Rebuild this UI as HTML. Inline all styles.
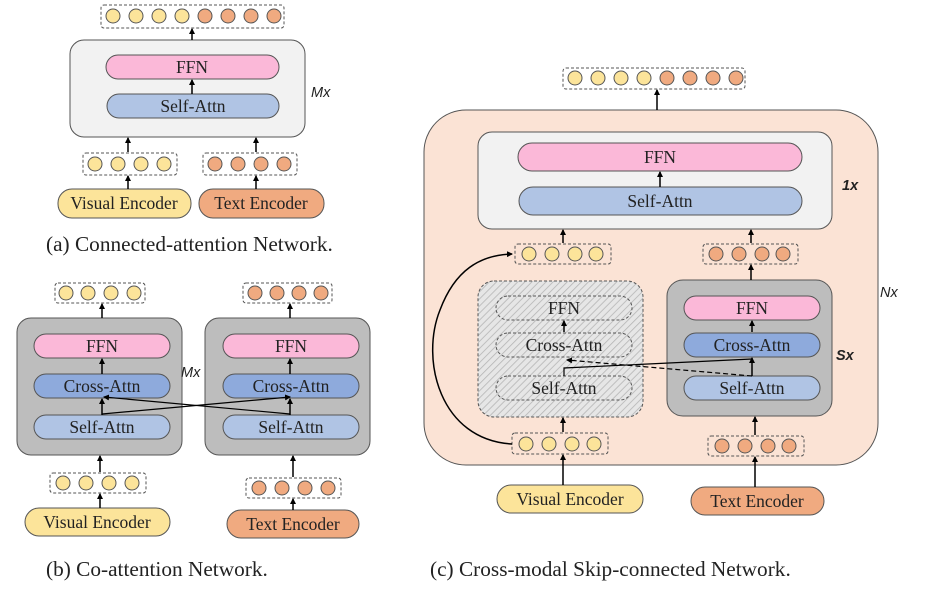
<!DOCTYPE html>
<html><head><meta charset="utf-8"><style>
html,body{margin:0;padding:0;background:#fff;}
svg{display:block;}
text{font-family:"Liberation Serif",serif;fill:#222;}
.it{font-family:"Liberation Sans",sans-serif;font-style:italic;}
</style></head><body>
<svg width="947" height="592" viewBox="0 0 947 592" xmlns="http://www.w3.org/2000/svg">
<defs>
<marker id="ah" markerWidth="6" markerHeight="6" refX="5" refY="3" orient="auto" markerUnits="userSpaceOnUse"><path d="M0,0 L6,3 L0,6 z" fill="#000"/></marker>
<pattern id="hatch" width="5" height="5" patternUnits="userSpaceOnUse" patternTransform="rotate(45)"><rect width="5" height="5" fill="#e6e6e6"/><line x1="0" y1="0" x2="0" y2="5" stroke="#b5b5b5" stroke-width="1.6"/></pattern>
<g id="y"><circle r="7" fill="#fce49a" stroke="#555" stroke-width="1"/></g>
<g id="o"><circle r="7" fill="#f0aa80" stroke="#555" stroke-width="1"/></g>
</defs>

<!-- (a) -->
<rect x="101" y="5" width="183" height="23" rx="3" fill="#fff" stroke="#555" stroke-dasharray="3,2"/>
<use href="#y" x="113" y="16"/><use href="#y" x="136" y="16"/><use href="#y" x="159" y="16"/><use href="#y" x="182" y="16"/>
<use href="#o" x="205" y="16"/><use href="#o" x="228" y="16"/><use href="#o" x="251" y="16"/><use href="#o" x="274" y="16"/>
<rect x="70" y="40" width="235" height="97" rx="14" fill="#f2f2f2" stroke="#555"/>
<rect x="106" y="55" width="173" height="24" rx="12" fill="#fbb8d8" stroke="#555"/>
<text x="192" y="73" font-size="17.5" text-anchor="middle">FFN</text>
<rect x="107" y="94" width="172" height="24" rx="12" fill="#b0c4e4" stroke="#555"/>
<text x="193" y="112" font-size="17.5" text-anchor="middle">Self-Attn</text>
<text x="311" y="97" font-size="14.5" class="it">Mx</text>
<rect x="83" y="153" width="94" height="22" rx="3" fill="#fff" stroke="#555" stroke-dasharray="3,2"/>
<use href="#y" x="95" y="164"/><use href="#y" x="118" y="164"/><use href="#y" x="141" y="164"/><use href="#y" x="164" y="164"/>
<rect x="203" y="153" width="94" height="22" rx="3" fill="#fff" stroke="#555" stroke-dasharray="3,2"/>
<use href="#o" x="215" y="164"/><use href="#o" x="238" y="164"/><use href="#o" x="261" y="164"/><use href="#o" x="284" y="164"/>
<rect x="58" y="189" width="133" height="29" rx="14" fill="#fce49a" stroke="#555"/>
<text x="124" y="209" font-size="17.5" text-anchor="middle">Visual Encoder</text>
<rect x="199" y="189" width="125" height="29" rx="14" fill="#f0aa80" stroke="#555"/>
<text x="261" y="209" font-size="17.5" text-anchor="middle">Text Encoder</text>
<text x="46" y="251" font-size="21.3">(a) Connected-attention Network.</text>
<g stroke="#000" stroke-width="1.5" marker-end="url(#ah)">
<line x1="192" y1="40" x2="192" y2="29"/>
<line x1="192" y1="94" x2="192" y2="80"/>
<line x1="128" y1="152" x2="128" y2="138"/>
<line x1="256" y1="152" x2="256" y2="138"/>
<line x1="128" y1="189" x2="128" y2="176"/>
<line x1="256" y1="189" x2="256" y2="176"/>
</g>

<!-- (b) -->
<rect x="55" y="283" width="90" height="20" rx="3" fill="#fff" stroke="#555" stroke-dasharray="3,2"/>
<use href="#y" x="66" y="293"/><use href="#y" x="88" y="293"/><use href="#y" x="111" y="293"/><use href="#y" x="134" y="293"/>
<rect x="243" y="283" width="89" height="20" rx="3" fill="#fff" stroke="#555" stroke-dasharray="3,2"/>
<use href="#o" x="255" y="293"/><use href="#o" x="277" y="293"/><use href="#o" x="299" y="293"/><use href="#o" x="321" y="293"/>
<rect x="17" y="318" width="165" height="137" rx="14" fill="#bdbdbd" stroke="#555"/>
<rect x="205" y="318" width="165" height="137" rx="14" fill="#bdbdbd" stroke="#555"/>
<rect x="34" y="334" width="136" height="24" rx="12" fill="#fbb8d8" stroke="#555"/>
<text x="102" y="352" font-size="17.5" text-anchor="middle">FFN</text>
<rect x="34" y="374" width="136" height="24" rx="12" fill="#8eaadc" stroke="#555"/>
<text x="102" y="392" font-size="17.5" text-anchor="middle">Cross-Attn</text>
<rect x="34" y="415" width="136" height="24" rx="12" fill="#b0c4e4" stroke="#555"/>
<text x="102" y="433" font-size="17.5" text-anchor="middle">Self-Attn</text>
<rect x="223" y="334" width="136" height="24" rx="12" fill="#fbb8d8" stroke="#555"/>
<text x="291" y="352" font-size="17.5" text-anchor="middle">FFN</text>
<rect x="223" y="374" width="136" height="24" rx="12" fill="#8eaadc" stroke="#555"/>
<text x="291" y="392" font-size="17.5" text-anchor="middle">Cross-Attn</text>
<rect x="223" y="415" width="136" height="24" rx="12" fill="#b0c4e4" stroke="#555"/>
<text x="291" y="433" font-size="17.5" text-anchor="middle">Self-Attn</text>
<text x="181" y="377" font-size="14.5" class="it">Mx</text>
<rect x="50" y="473" width="96" height="20" rx="3" fill="#fff" stroke="#555" stroke-dasharray="3,2"/>
<use href="#y" x="63" y="483"/><use href="#y" x="86" y="483"/><use href="#y" x="109" y="483"/><use href="#y" x="132" y="483"/>
<rect x="246" y="478" width="95" height="20" rx="3" fill="#fff" stroke="#555" stroke-dasharray="3,2"/>
<use href="#o" x="259" y="488"/><use href="#o" x="282" y="488"/><use href="#o" x="305" y="488"/><use href="#o" x="328" y="488"/>
<rect x="25" y="508" width="145" height="28" rx="14" fill="#fce49a" stroke="#555"/>
<text x="97" y="528" font-size="17.5" text-anchor="middle">Visual Encoder</text>
<rect x="227" y="510" width="132" height="28" rx="14" fill="#f0aa80" stroke="#555"/>
<text x="293" y="530" font-size="17.5" text-anchor="middle">Text Encoder</text>
<text x="46" y="576" font-size="21.3">(b) Co-attention Network.</text>
<g stroke="#000" stroke-width="1.5" fill="none">
<line x1="102" y1="415" x2="102" y2="399" marker-end="url(#ah)"/>
<line x1="290" y1="415" x2="290" y2="399" marker-end="url(#ah)"/>
<polyline points="102,414 290,397" stroke-width="1.2" marker-end="url(#ah)"/>
<polyline points="290,414 104,397" stroke-width="1.2" marker-end="url(#ah)"/>
</g>
<g stroke="#000" stroke-width="1.5" marker-end="url(#ah)">
<line x1="102" y1="318" x2="102" y2="304"/>
<line x1="290" y1="318" x2="290" y2="304"/>
<line x1="102" y1="374" x2="102" y2="359"/>
<line x1="290" y1="374" x2="290" y2="359"/>
<line x1="100" y1="472" x2="100" y2="456"/>
<line x1="293" y1="477" x2="293" y2="456"/>
<line x1="100" y1="508" x2="100" y2="494"/>
<line x1="293" y1="510" x2="293" y2="499"/>
</g>

<!-- (c) -->
<rect x="563" y="68" width="182" height="21" rx="3" fill="#fff" stroke="#555" stroke-dasharray="3,2"/>
<use href="#y" x="575" y="78"/><use href="#y" x="598" y="78"/><use href="#y" x="621" y="78"/><use href="#y" x="644" y="78"/>
<use href="#o" x="667" y="78"/><use href="#o" x="690" y="78"/><use href="#o" x="713" y="78"/><use href="#o" x="736" y="78"/>
<rect x="424" y="110" width="454" height="355" rx="42" fill="#fbe3d5" stroke="#555"/>
<rect x="478" y="132" width="354" height="97" rx="14" fill="#f2f2f2" stroke="#555"/>
<rect x="518" y="143" width="284" height="28" rx="14" fill="#fbb8d8" stroke="#555"/>
<text x="660" y="163" font-size="17.5" text-anchor="middle">FFN</text>
<rect x="519" y="187" width="283" height="28" rx="14" fill="#b0c4e4" stroke="#555"/>
<text x="660" y="207" font-size="17.5" text-anchor="middle">Self-Attn</text>
<text x="842" y="190" font-size="14.5" font-weight="bold" class="it">1x</text>
<text x="880" y="297" font-size="14.5" class="it">Nx</text>
<rect x="515" y="244" width="96" height="20" rx="3" fill="#fbe3d5" stroke="#555" stroke-dasharray="3,2"/>
<use href="#y" x="529" y="254"/><use href="#y" x="552" y="254"/><use href="#y" x="575" y="254"/><use href="#y" x="596" y="254"/>
<rect x="703" y="244" width="95" height="20" rx="3" fill="#fbe3d5" stroke="#555" stroke-dasharray="3,2"/>
<use href="#o" x="716" y="254"/><use href="#o" x="739" y="254"/><use href="#o" x="762" y="254"/><use href="#o" x="783" y="254"/>
<rect x="478" y="281" width="165" height="136" rx="16" fill="url(#hatch)" stroke="#555" stroke-dasharray="3,2"/>
<rect x="496" y="296" width="136" height="24" rx="12" fill="none" stroke="#555" stroke-dasharray="3,2"/>
<text x="564" y="314" font-size="17.5" text-anchor="middle">FFN</text>
<rect x="496" y="333" width="136" height="24" rx="12" fill="none" stroke="#555" stroke-dasharray="3,2"/>
<text x="564" y="351" font-size="17.5" text-anchor="middle">Cross-Attn</text>
<rect x="496" y="376" width="136" height="24" rx="12" fill="none" stroke="#555" stroke-dasharray="3,2"/>
<text x="564" y="394" font-size="17.5" text-anchor="middle">Self-Attn</text>
<rect x="667" y="280" width="165" height="136" rx="16" fill="#bdbdbd" stroke="#555"/>
<rect x="684" y="296" width="136" height="24" rx="12" fill="#fbb8d8" stroke="#555"/>
<text x="752" y="314" font-size="17.5" text-anchor="middle">FFN</text>
<rect x="684" y="333" width="136" height="24" rx="12" fill="#8eaadc" stroke="#555"/>
<text x="752" y="351" font-size="17.5" text-anchor="middle">Cross-Attn</text>
<rect x="684" y="376" width="136" height="24" rx="12" fill="#b0c4e4" stroke="#555"/>
<text x="752" y="394" font-size="17.5" text-anchor="middle">Self-Attn</text>
<text x="836" y="360" font-size="14.5" font-weight="bold" class="it">Sx</text>
<rect x="512" y="433" width="96" height="21" rx="3" fill="#fbe3d5" stroke="#555" stroke-dasharray="3,2"/>
<use href="#y" x="526" y="444"/><use href="#y" x="549" y="444"/><use href="#y" x="572" y="444"/><use href="#y" x="594" y="444"/>
<rect x="708" y="436" width="96" height="20" rx="3" fill="#fbe3d5" stroke="#555" stroke-dasharray="3,2"/>
<use href="#o" x="722" y="446"/><use href="#o" x="745" y="446"/><use href="#o" x="768" y="446"/><use href="#o" x="789" y="446"/>
<rect x="497" y="485" width="146" height="28" rx="14" fill="#fce49a" stroke="#555"/>
<text x="570" y="505" font-size="17.5" text-anchor="middle">Visual Encoder</text>
<rect x="691" y="487" width="133" height="28" rx="14" fill="#f0aa80" stroke="#555"/>
<text x="757" y="507" font-size="17.5" text-anchor="middle">Text Encoder</text>
<text x="430" y="576" font-size="21.3">(c) Cross-modal Skip-connected Network.</text>
<g stroke="#000" stroke-width="1.5" fill="none">
<line x1="657" y1="110" x2="657" y2="90" marker-end="url(#ah)"/>
<line x1="660" y1="187" x2="660" y2="172" marker-end="url(#ah)"/>
<line x1="563" y1="243" x2="563" y2="230" marker-end="url(#ah)"/>
<line x1="751" y1="243" x2="751" y2="230" marker-end="url(#ah)"/>
<line x1="751" y1="280" x2="751" y2="265" marker-end="url(#ah)"/>
<line x1="564" y1="332" x2="564" y2="321" marker-end="url(#ah)"/>
<line x1="752" y1="332" x2="752" y2="321" marker-end="url(#ah)"/>
<line x1="752" y1="376" x2="752" y2="358" marker-end="url(#ah)"/>
<polyline points="564,376 564,368 752,359" stroke-width="1.2"/>
<polyline points="752,376 567,360" stroke-width="1.2" stroke-dasharray="5,3" marker-end="url(#ah)"/>
<line x1="563" y1="432" x2="563" y2="418" marker-end="url(#ah)"/>
<line x1="755" y1="435" x2="755" y2="417" marker-end="url(#ah)"/>
<line x1="563" y1="485" x2="563" y2="455" marker-end="url(#ah)"/>
<line x1="755" y1="487" x2="755" y2="457" marker-end="url(#ah)"/>
<path d="M512,444 C440,440 420,360 440,310 C455,270 480,255 512,254" marker-end="url(#ah)"/>
</g>
</svg>
</body></html>
